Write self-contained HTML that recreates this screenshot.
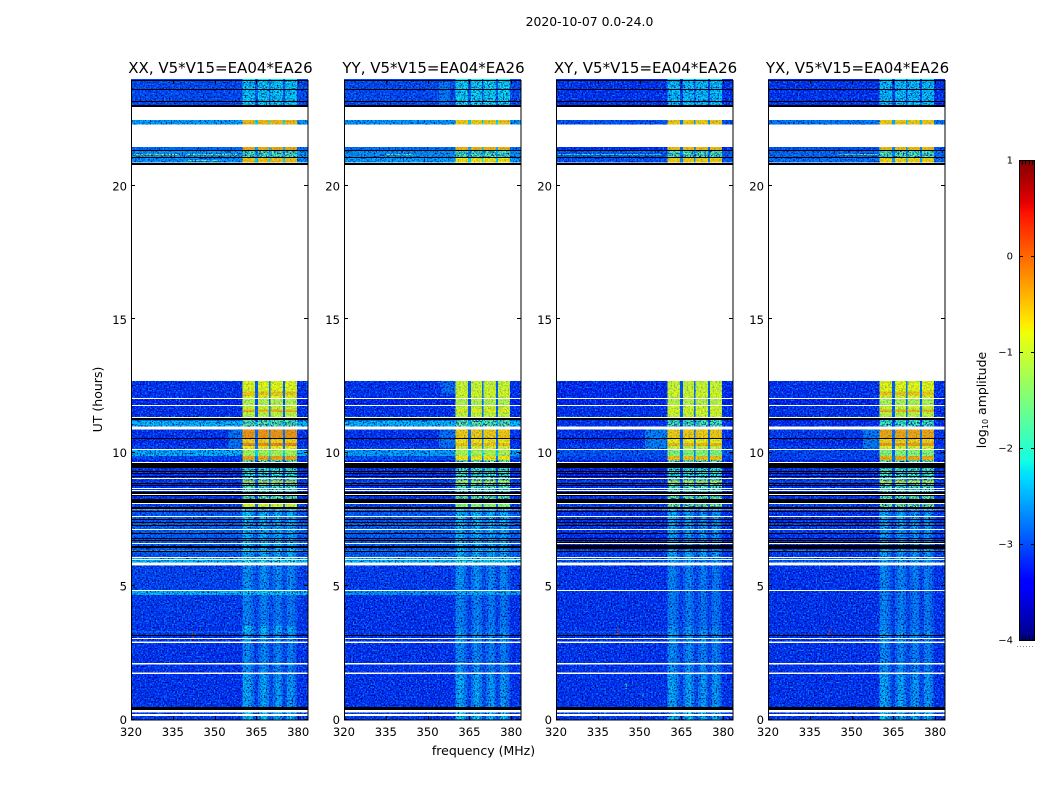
<!DOCTYPE html>
<html>
<head>
<meta charset="utf-8">
<title>2020-10-07 amplitude waterfall</title>
<style>
html,body{margin:0;padding:0;background:#fff;width:1050px;height:800px;overflow:hidden}
svg{display:block}
text{font-family:"DejaVu Sans","Liberation Sans",sans-serif;fill:#000}
</style>
</head>
<body>
<svg id="chart" xmlns="http://www.w3.org/2000/svg" width="1050" height="800" viewBox="0 0 1050 800">
  <defs id="defs"></defs>
  <text x="589.5" y="26" font-size="12.4" text-anchor="middle">2020-10-07 0.0-24.0</text>
  <text x="483.5" y="755" font-size="12.5" text-anchor="middle">frequency (MHz)</text>
  <text transform="translate(102,399.5) rotate(-90)" font-size="12.5" text-anchor="middle">UT (hours)</text>
  <text transform="translate(986,400) rotate(-90)" font-size="12.5" text-anchor="middle">log<tspan font-size="8" dy="2">10</tspan><tspan dy="-2"> amplitude</tspan></text>
</svg>
<script>
// ---- tick labels ----
const xTicks = [320, 335, 350, 365, 380];
const yTicks = [0, 5, 10, 15, 20];
const cbTicks = [1, 0, -1, -2, -3, -4];
const panelNames = ["XX", "YY", "XY", "YX"];

// ---- frequency channels (MHz); outside 360-379.5 the row background applies ----
const channelEdges = [320,360,361,362,363,364,364.5,365.5,366.5,367.5,368.5,369.5,370,371,372,373,374,374.5,375.2,376,377,378,379,379.5,383.5];
// fraction of (band - background) in each channel: bright bursts / quiet hours
const flatProfile   = [0, 1,1,1,1,1, .12, 1,1,1,1, .18, 1,1,1,1,1, .14, 1,1,1,1,1, 0];
const streakProfile = [0, .85,.95,.85,.6,.3, .1, .5,.85,.95,.65, .25, .2,.55,.85,.8,.4, .15, .25,.75,.85,.6,.3, 0];
const streakBelowHour = 7.9;
const noisyBandBelow = -1.5;

// ---- observing-time rows (UT hours) ----
const rowTop    = [24,22.47,21.45,21.33,21.06,12.69,12.3,12.15,12.03,11.76,11.62,11.52,11.32,11.21,10.87,10.55,10.37,10.26,10.13,9.87,9.72,9.43,8.93,8.88,8.33,8.26,8.08,7.88,7.4,6.82,6.34,6.31,6.1,5.78,4.82,4.66,3.5,3.3,3.26,2.87,2.06,1.72,0.27];
const rowBottom = [23,22.3,21.33,21.06,20.88,12.3,12.15,12.03,11.76,11.62,11.52,11.32,11.21,10.98,10.55,10.37,10.26,10.13,9.87,9.72,9.43,8.93,8.88,8.33,8.26,8.08,7.95,7.4,6.82,6.34,6.31,6.1,5.88,4.86,4.66,3.5,3.3,3.26,2.92,2.1,1.76,0.47,0];

// ---- log10 amplitude per row: background and RFI band, one pair per polarisation ----
const xxBg   = [-3.05,-2.5,-2.85,-2.55,-2.6,-3.2,-3.2,-3.2,-3.3,-3.2,-3.2,-3.2,-3.4,-2.35,-3.2,-3.25,-3.2,-3.1,-2.4,-3.1,-3.3,-3.2,-3.1,-3.2,-3.2,-3.4,-3.1,-2.95,-2.9,-2.95,-1.5,-2.95,-2.35,-3.1,-2.35,-3.15,-3.2,-2.6,-3.2,-3.2,-3.2,-3.2,-3.15];
const xxBand = [-2.25,-.45,-.35,-1.7,-.5,-.8,-.55,-.85,-1.1,-.95,-.45,-1.05,-1.7,-1.6,-.25,-.6,-.2,-.75,-1.2,-.35,-1.5,-1.9,-.55,-1.7,-1.5,-1.9,-.95,-2.2,-2.3,-2.25,-1.3,-2.3,-2.0,-2.5,-2.25,-2.6,-2.2,-2.3,-2.4,-2.55,-2.5,-2.35,-2.1];
const yyBg   = [-3.05,-2.55,-2.8,-2.6,-2.5,-3.2,-3.2,-3.2,-3.3,-3.2,-3.2,-3.2,-3.4,-2.35,-3.2,-3.25,-3.2,-3.1,-2.5,-3.0,-3.3,-3.2,-3.0,-3.2,-3.2,-3.4,-3.1,-2.95,-2.9,-2.95,-2.4,-2.9,-2.35,-3.15,-2.55,-3.2,-3.2,-3.0,-3.2,-3.2,-3.2,-3.2,-3.15];
const yyBand = [-2.2,-.55,-.4,-1.7,-.7,-.95,-.85,-1.0,-1.1,-.95,-.75,-1.0,-1.7,-1.6,-.55,-.7,-.5,-.9,-1.15,-.7,-1.5,-1.8,-.8,-1.7,-1.5,-1.9,-1.4,-2.2,-2.3,-2.3,-2.1,-2.3,-2.05,-2.5,-2.35,-2.6,-2.5,-2.5,-2.4,-2.55,-2.5,-2.35,-2.1];
const xyBg   = [-3.2,-3.0,-3.2,-2.95,-3.0,-3.25,-3.25,-3.25,-3.3,-3.2,-3.2,-3.2,-3.4,-3.2,-3.2,-3.25,-3.2,-3.1,-3.0,-3.1,-3.3,-3.3,-3.1,-3.2,-3.2,-3.4,-3.1,-3.2,-3.2,-3.25,-2.6,-3.15,-3.0,-3.2,-3.2,-3.2,-3.2,-2.75,-3.2,-3.2,-3.2,-3.2,-3.15];
const xyBand = [-2.3,-.55,-.45,-1.7,-.55,-.95,-.85,-1.0,-1.05,-.95,-.8,-.95,-1.7,-1.7,-.55,-.75,-.45,-1.0,-1.4,-.5,-1.5,-1.9,-.7,-1.7,-1.5,-1.9,-1.5,-2.3,-2.35,-2.45,-2.1,-2.3,-2.4,-2.6,-2.6,-2.65,-2.5,-2.3,-2.4,-2.55,-2.5,-2.35,-2.1];
const yxBg   = [-3.2,-2.75,-3.0,-2.85,-2.8,-3.2,-3.2,-3.2,-3.3,-3.2,-3.2,-3.2,-3.4,-3.25,-3.15,-3.25,-3.2,-3.1,-3.1,-3.1,-3.3,-3.2,-3.0,-3.2,-3.2,-3.4,-3.1,-3.2,-3.15,-3.2,-1.9,-3.15,-2.95,-3.2,-3.2,-3.2,-3.2,-3.0,-3.2,-3.2,-3.2,-3.2,-3.15];
const yxBand = [-2.3,-.55,-.45,-1.7,-.6,-.8,-.55,-.9,-1.15,-.95,-.45,-1.05,-1.7,-1.8,-.35,-.6,-.3,-.85,-1.4,-.4,-1.5,-1.8,-.7,-1.7,-1.5,-1.9,-1.5,-2.3,-2.4,-2.4,-1.8,-2.4,-2.3,-2.55,-2.6,-2.6,-2.5,-2.4,-2.4,-2.55,-2.5,-2.35,-2.1];

// ---- flagged time ranges: w = no data (white), k = zero amplitude (black) ----
const flagKind   = ["k","k","k","k","k","k","w","w","w","k","k","k","w","w","k","k","k","k","w","k","k","w","w","k","w","k","k","w","k","w","k","k","k","w","k","k","w","k","k","w","w","w","w","k","w","w","w","w","k","w","w","k","k","k"];
const flagTop    = [23.62,23.2,23.03,21.33,21.08,20.84,12.05,11.78,11.34,11.31,11.25,10.55,10.14,9.66,9.62,9.33,9.23,9.14,9.05,8.88,8.78,8.69,8.62,8.52,8.45,8.4,8.26,8.12,7.95,7.62,7.52,7.41,7.29,7.14,6.98,6.82,6.6,6.48,6.31,6.1,6.02,5.88,4.86,3.17,3.04,2.92,2.1,1.76,0.47,0.36,0.2,7.8,6.72,6.52];
const flagBottom = [23.58,23.16,22.96,21.29,21.05,20.78,12.02,11.75,11.31,11.28,11.22,10.52,10.11,9.62,9.43,9.29,9.19,9.11,9.02,8.85,8.74,8.65,8.56,8.45,8.4,8.37,8.12,8.08,7.88,7.58,7.49,7.38,7.26,7.11,6.94,6.79,6.56,6.44,6.27,6.07,5.98,5.78,4.82,3.13,3,2.87,2.07,1.72,0.36,0.27,0.14,7.77,6.69,6.49];

// ---- extra black flags on the cross-hands only ----
const crossFlagTop    = [6.65,6.55,6.42];
const crossFlagBottom = [6.63,6.53,6.39];

// ---- isolated bright features: polarisation index, frequency range, hour range, log10 amplitude ----
const spotPol  = [0,0,0,0,0,2,2,2,3,3,3,1,1,2,3,1,0,2,3,1,2];
const spotF0   = [321,340,340,355,342.1,342.1,345,352,354,352,345,355,354,320,342.1,354,322,322,322,335,351];
const spotF1   = [337,358,352,360,342.5,342.5,345.4,360,360,360,358,360,360,358,342.5,358,322.4,322.4,322.4,345,351.4];
const spotTop  = [21.2,21.2,20.98,10.87,3.3,3.45,1.35,10.87,10.87,21.2,21.2,12.69,10.87,21.2,3.45,23.9,2.1,2.1,2.1,21.2,1.0];
const spotBot  = [21.16,21.16,20.95,10.14,3.05,3.1,1.15,10.14,10.14,21.16,21.16,12.2,10.2,21.16,3.15,23.05,2.05,2.05,2.05,21.16,0.85];
const spotVal  = [-1.0,-1.2,-1.6,-2.8,0.3,0.3,-2.0,-2.7,-2.75,-1.7,-1.5,-2.85,-2.8,-1.9,0.5,-2.75,-0.4,-0.3,-0.6,-1.5,-2.0];

const panelLeft = [131, 344, 556, 768];
const panelWidth = 177, axisTop = 80, axisBottom = 720;
const NS = "http://www.w3.org/2000/svg";
const svg = document.getElementById("chart");
const defs = document.getElementById("defs");
const bgSets = [xxBg, yyBg, xyBg, yxBg];
const bandSets = [xxBand, yyBand, xyBand, yxBand];

function xScale(p, f){ return panelLeft[p] + (f - 320) / 63.5 * panelWidth; }
function yScale(h){ return axisBottom - 0.5 - h * 26.68; }
function lerp(stops, t){
  for (let i = 1; i < stops.length; i++) {
    if (t <= stops[i][0]) {
      const a = stops[i-1], b = stops[i];
      return a[1] + (b[1] - a[1]) * (t - a[0]) / (b[0] - a[0]);
    }
  }
  return stops[stops.length-1][1];
}
function jet(v){
  const t = Math.max(0, Math.min(1, (v + 4) / 5));
  const r = lerp([[0,0],[.35,0],[.66,1],[.89,1],[1,.5]], t);
  const g = lerp([[0,0],[.125,0],[.375,1],[.64,1],[.91,0],[1,0]], t);
  const b = lerp([[0,.5],[.11,1],[.34,1],[.65,0],[1,0]], t);
  return "rgb(" + Math.round(r*255) + "," + Math.round(g*255) + "," + Math.round(b*255) + ")";
}
function shape(parent, tag, attrs){
  const el = document.createElementNS(NS, tag);
  for (const k in attrs) el.setAttribute(k, attrs[k]);
  parent.appendChild(el);
  return el;
}

panelNames.forEach(function(name, p){
  const x0 = panelLeft[p], x1 = x0 + panelWidth;
  const lower = name.toLowerCase();
  const panel = shape(svg, "g", {});
  
  

  const heat = shape(panel, "g", {"shape-rendering":"crispEdges"});
  
  

  const clipOut = shape(defs, "clipPath", {id:"rows-out-" + lower});
  const clipIn = shape(defs, "clipPath", {id:"rows-in-" + lower});
  const bandL = xScale(p, channelEdges[1]), bandR = xScale(p, channelEdges[channelEdges.length - 2]);
  rowTop.forEach(function(top, r){
    const ry = yScale(top), rh = yScale(rowBottom[r]) - ry;
    const quiet = top <= streakBelowHour;
    const noisy = quiet || bandSets[p][r] <= noisyBandBelow;
    shape(clipOut, "rect", {x:x0, y:ry, width:bandL - x0, height:rh});
    shape(clipOut, "rect", {x:bandR, y:ry, width:x1 - bandR, height:rh});
    shape(noisy ? clipOut : clipIn, "rect", {x:bandL, y:ry, width:bandR - bandL, height:rh});
    const profile = quiet ? streakProfile : flatProfile;
    for (let c = 0; c < channelEdges.length - 1; c++) {
      const v = bgSets[p][r] + (bandSets[p][r] - bgSets[p][r]) * profile[c];
      const cx0 = xScale(p, channelEdges[c]), cx1 = xScale(p, channelEdges[c+1]);
      const cell = shape(heat, "rect", {x:cx0, y:ry, width:cx1 - cx0, height:rh, fill:jet(v)});
      
      
    }
  });

  spotPol.forEach(function(pol, s){
    if (pol !== p) return;
    const sx0 = xScale(p, spotF0[s]), sx1 = xScale(p, spotF1[s]);
    const spot = shape(heat, "rect", {x:sx0, y:yScale(spotTop[s]), width:Math.max(1, sx1 - sx0), height:Math.max(1, yScale(spotBot[s]) - yScale(spotTop[s])), fill:jet(spotVal[s])});
    
    
  });

  // fine channel-to-channel texture over the data rows (weaker inside the bright band)
  [["light", "0 0 0 0 0  0 0 0 0 .55  0 0 0 0 1  3.6 0 0 0 -1.6"], ["dark", "0 0 0 0 0  0 0 0 0 0  0 0 0 0 .45  0 3.6 0 0 -1.75"]].forEach(function(tex, n){
    const f = shape(defs, "filter", {id:"noise-" + lower + n, x:x0, y:axisTop, width:panelWidth, height:axisBottom - axisTop, filterUnits:"userSpaceOnUse", "color-interpolation-filters":"sRGB"});
    shape(f, "feTurbulence", {type:"fractalNoise", baseFrequency:"0.62", numOctaves:"2", seed:String(3 + p * 7 + n * 11)});
    shape(f, "feColorMatrix", {type:"matrix", values:tex[1]});
    const overlay = shape(panel, "rect", {x:x0, y:axisTop, width:panelWidth, height:axisBottom - axisTop, filter:"url(#noise-" + lower + n + ")", "clip-path":"url(#rows-out-" + lower + ")"});
    
    
    const overlayBand = shape(panel, "rect", {x:x0, y:axisTop, width:panelWidth, height:axisBottom - axisTop, filter:"url(#noise-" + lower + n + ")", "clip-path":"url(#rows-in-" + lower + ")", opacity:".28"});
    
    
  });

  const flags = shape(panel, "g", {"shape-rendering":"crispEdges"});
  
  
  flagKind.forEach(function(kind, i){
    const fy = Math.round(yScale(flagTop[i]));
    const bar = shape(flags, "rect", {x:x0, y:fy, width:panelWidth, height:Math.max(1, Math.round(yScale(flagBottom[i])) - fy), fill:kind === "k" ? "#000" : "#fff"});
    
    
  });
  if (p >= 2) crossFlagTop.forEach(function(top, i){
    const fy = Math.round(yScale(top));
    const bar = shape(flags, "rect", {x:x0, y:fy, width:panelWidth, height:Math.max(1, Math.round(yScale(crossFlagBottom[i])) - fy), fill:"#000"});
    
    
  });

  const frame = shape(panel, "rect", {x:x0 + .5, y:axisTop + .5, width:panelWidth - .5, height:axisBottom - axisTop - .5, fill:"none", stroke:"#000", "stroke-width":"1", "shape-rendering":"crispEdges"});
  
  

  const title = shape(panel, "text", {x:(x0 + x1) / 2 + 1, y:73, "font-size":"15", "text-anchor":"middle"});
  title.textContent = name + ", V5*V15=EA04*EA26";
  
  

  xTicks.forEach(function(t){
    const x = Math.round(xScale(p, t)) + .5;
    const tickB = shape(panel, "line", {x1:x, x2:x, y1:axisBottom, y2:axisBottom - 4, stroke:"#000", "stroke-width":"1", "shape-rendering":"crispEdges"});
    
    
    const tickT = shape(panel, "line", {x1:x, x2:x, y1:axisTop, y2:axisTop + 4, stroke:"#000", "stroke-width":"1", "shape-rendering":"crispEdges"});
    
    
    const lab = shape(panel, "text", {x:xScale(p, t), y:736, "font-size":"11.6", "text-anchor":"middle"});
    lab.textContent = t;
    
    
  });
  yTicks.forEach(function(t){
    const y = Math.round(yScale(t)) - .5;
    const tickL = shape(panel, "line", {x1:x0, x2:x0 + 4, y1:y, y2:y, stroke:"#000", "stroke-width":"1", "shape-rendering":"crispEdges"});
    
    
    const tickR = shape(panel, "line", {x1:x1, x2:x1 - 4, y1:y, y2:y, stroke:"#000", "stroke-width":"1", "shape-rendering":"crispEdges"});
    
    
    const lab = shape(panel, "text", {x:x0 - 4, y:yScale(t) + 4.5, "font-size":"11.6", "text-anchor":"end"});
    lab.textContent = t;
    
    
  });
});

// ---- colorbar ----
function cbScale(v){ return 256 - v * 96; }
const cb = shape(svg, "g", {});


const cbX = 1019, cbW = 16;
for (let i = 0; i < 256; i++) {
  const v0 = -4 + 5 * i / 256, v1 = -4 + 5 * (i + 1) / 256;
  const band = shape(cb, "rect", {x:cbX, y:cbScale(v1), width:cbW, height:cbScale(v0) - cbScale(v1) + .5, fill:jet((v0 + v1) / 2), "shape-rendering":"crispEdges"});
  
  
}
const cbFrame = shape(cb, "rect", {x:cbX + .5, y:160.5, width:cbW - 1, height:480, fill:"none", stroke:"#000", "stroke-width":"1", "shape-rendering":"crispEdges"});


cbTicks.forEach(function(t){
  const y = Math.round(cbScale(t)) + .5;
  const lab = shape(cb, "text", {x:cbX - 6, y:cbScale(t) + 3.5, "font-size":"10", "text-anchor":"end"});
  lab.textContent = String(t).replace("-", "\u2212");
  
  
  if (t === 1 || t === -4) {
    for (let k = 1; k < 5; k++) {
      const x = cbX + Math.round(k * cbW / 5) + .5;
      const tooth = shape(cb, "line", {x1:x, x2:x, y1:y, y2:t === 1 ? y + 4 : y - 4, stroke:"#000", "stroke-width":"1", "shape-rendering":"crispEdges"});
      
      
    }
  } else {
    const tl = shape(cb, "line", {x1:cbX, x2:cbX + 4, y1:y, y2:y, stroke:"#000", "stroke-width":"1", "shape-rendering":"crispEdges"});
    
    
    const tr = shape(cb, "line", {x1:cbX + cbW, x2:cbX + cbW - 4, y1:y, y2:y, stroke:"#000", "stroke-width":"1", "shape-rendering":"crispEdges"});
    
    
  }
});
const dots = shape(cb, "line", {x1:1017, x2:1035, y1:646.5, y2:646.5, stroke:"#888", "stroke-width":"1", "stroke-dasharray":"1 2", "shape-rendering":"crispEdges"});


</script>
</body>
</html>
